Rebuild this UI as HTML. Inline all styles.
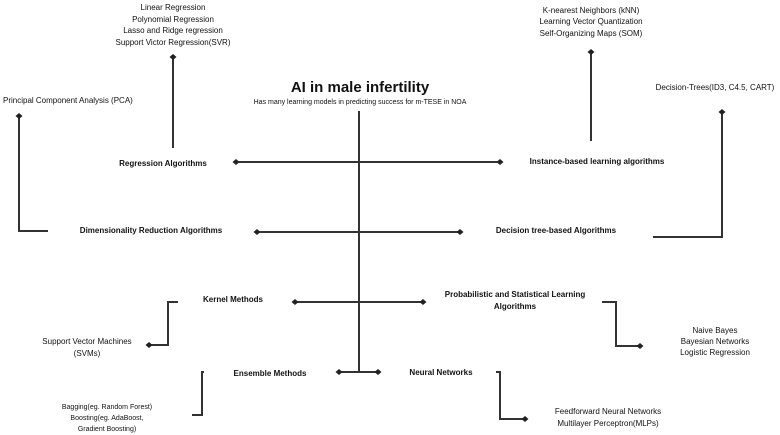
<!DOCTYPE html>
<html><head><meta charset="utf-8"><style>html,body{margin:0;padding:0;background:#fff}svg{display:block}</style></head>
<body>
<svg width="780" height="435" viewBox="0 0 780 435" xmlns="http://www.w3.org/2000/svg" font-family="'Liberation Sans', sans-serif" fill="#111">
<defs><path id="d" d="M-3.5,0 L0,-3 L3.5,0 L0,3 Z" fill="#222"/></defs>
<g stroke="#333" stroke-width="2" fill="none">
<line x1="359" y1="111" x2="359" y2="372"/>
<line x1="236" y1="162" x2="500" y2="162"/>
<line x1="257" y1="232" x2="460" y2="232"/>
<line x1="295" y1="302" x2="423" y2="302"/>
<line x1="339" y1="372" x2="378" y2="372"/>
<line x1="173" y1="57" x2="173" y2="148"/>
<polyline points="19,116 19,231 48,231"/>
<line x1="591" y1="52" x2="591" y2="141"/>
<polyline points="722,112 722,237 653,237"/>
<polyline points="178,302 168,302 168,345 149,345"/>
<polyline points="204,372 202,372 202,415 192,415"/>
<polyline points="602,302 616,302 616,346 640,346"/>
<polyline points="496,372 500,372 500,419 525,419"/>
</g>
<use href="#d" x="236" y="162"/><use href="#d" x="500" y="162"/>
<use href="#d" x="257" y="232"/><use href="#d" x="460" y="232"/>
<use href="#d" x="295" y="302"/><use href="#d" x="423" y="302"/>
<use href="#d" x="339" y="372"/><use href="#d" x="378" y="372"/>
<use href="#d" x="173" y="57"/><use href="#d" x="19" y="116"/>
<use href="#d" x="591" y="52"/><use href="#d" x="722" y="112"/>
<use href="#d" x="149" y="345"/><use href="#d" x="640" y="346"/>
<use href="#d" x="525" y="419"/>
<g text-anchor="middle">
<text x="360" y="92" font-size="15" font-weight="bold">AI in male infertility</text>
<text x="360" y="104" font-size="7">Has many learning models in predicting success for m-TESE in NOA</text>
<g font-size="8" font-weight="bold">
<text x="163" y="166">Regression Algorithms</text>
<text x="151" y="233">Dimensionality Reduction Algorithms</text>
<text x="597" y="164">Instance-based learning algorithms</text>
<text x="556" y="233">Decision tree-based Algorithms</text>
<text x="233" y="302">Kernel Methods</text>
<text x="270" y="376">Ensemble Methods</text>
<text x="515" y="297">Probabilistic and Statistical Learning</text>
<text x="515" y="309">Algorithms</text>
<text x="441" y="375">Neural Networks</text>
</g>
<g font-size="8">
<text x="173" y="10">Linear Regression</text>
<text x="173" y="22">Polynomial Regression</text>
<text x="173" y="33">Lasso and Ridge regression</text>
<text x="173" y="45">Support Victor Regression(SVR)</text>
<text x="591" y="13">K-nearest Neighbors (kNN)</text>
<text x="591" y="24">Learning Vector Quantization</text>
<text x="591" y="36">Self-Organizing Maps (SOM)</text>
<text x="715" y="90">Decision-Trees(ID3, C4.5, CART)</text>
<text x="87" y="344">Support Vector Machines</text>
<text x="87" y="356">(SVMs)</text>
<text x="715" y="333">Naive Bayes</text>
<text x="715" y="344">Bayesian Networks</text>
<text x="715" y="355">Logistic Regression</text>
<text x="608" y="414">Feedforward Neural Networks</text>
<text x="608" y="426">Multilayer Perceptron(MLPs)</text>
</g>
<g font-size="7">
<text x="107" y="409">Bagging(eg. Random Forest)</text>
<text x="107" y="420">Boosting(eg. AdaBoost,</text>
<text x="107" y="431">Gradient Boosting)</text>
</g>
</g>
<text x="3" y="103" font-size="8">Principal Component Analysis (PCA)</text>
</svg>
</body></html>
